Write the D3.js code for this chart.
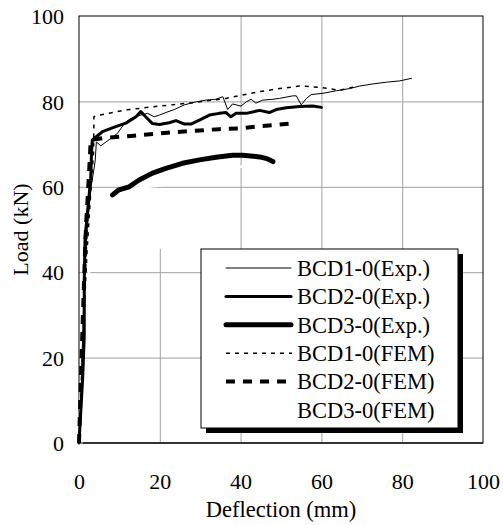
<!DOCTYPE html>
<html><head><meta charset="utf-8">
<script src="https://cdn.jsdelivr.net/npm/d3@7/dist/d3.min.js"></script>
<style>body{margin:0;background:#fff;} svg{display:block;}</style>
</head><body>
<svg id="c" width="503" height="525"></svg>
<script>
const xTicks = [0, 20, 40, 60, 80, 100];
const yTicks = [0, 20, 40, 60, 80, 100];
const seriesNames = ["BCD1-0(Exp.)", "BCD2-0(Exp.)", "BCD3-0(Exp.)", "BCD1-0(FEM)", "BCD2-0(FEM)", "BCD3-0(FEM)"];

const bcd1Exp = [[0,0],[0.6,15],[1.2,35],[2,50],[3,60],[4,66],[4.3,70.5],[5.4,69.6],[7.4,71],[9.5,72.5],[11.4,75],[12.8,76],[14.1,76.4],[15.3,76.8],[17,77.2],[18.6,76.4],[19.9,76.8],[21.5,77.4],[23.6,78.1],[26.1,79.2],[29,79.9],[31.4,80.3],[33.9,80.5],[35.6,81.1],[36.8,78.1],[38,79.4],[40.1,78.9],[41.4,79.9],[42.6,80.5],[43.8,79.6],[45.5,80.3],[48,80.5],[49.6,80.7],[52.9,81.3],[53.8,81.3],[55,79.2],[56.3,80.7],[57.5,81.6],[60.4,81.9],[63.7,82.5],[67,83],[69.5,83.6],[72.8,84.1],[76.1,84.5],[79.4,84.8],[82.3,85.4]];
const bcd2Exp = [[0,0],[0.9,15],[1.3,25],[1.3,38],[1.5,48],[2.1,54],[2.9,62],[3.1,68],[3.3,71],[5.8,72.9],[9.1,74.1],[11.6,74.9],[14.1,76.4],[15.3,77.6],[16.5,76.4],[18.2,74.8],[19.9,74.6],[22.3,75],[24,75.5],[26.1,74.7],[27.7,74.7],[29.8,75.6],[32.3,76.8],[34.7,77.2],[36.4,77.4],[37.6,76.4],[38.9,77.2],[41.4,77.2],[44.7,77.9],[47.1,77.4],[48.8,78.1],[51.3,78.5],[54.6,78.8],[57.9,78.9],[60,78.6]];
const bcd3Exp = [[8.3,58.1],[9.9,59.3],[12.4,60],[14.9,61.6],[18.2,63.2],[21.5,64.3],[25.6,65.5],[29.8,66.3],[33.9,66.9],[38,67.4],[40.5,67.4],[44.7,67],[46.5,66.6],[48,65.9]];
const bcd1Fem = [[0,0],[1,25],[2,45],[3,60],[3.6,68],[3.7,76.4],[4.1,76.6],[11.6,78],[19.9,78.9],[28.1,79.7],[36.4,80.7],[44.7,82.3],[49.6,83],[54.6,83.6],[59.6,83.3],[64.5,82.6],[69,83.6]];
const bcd2Fem = [[0,0],[0.8,25],[1.5,45],[1.8,52],[2.3,60],[2.7,67],[2.9,71],[5.8,71.4],[12.8,71.9],[19.9,72.5],[28.1,73.1],[34.7,73.5],[40.1,73.7],[44.7,74.2],[48.8,74.5],[53.8,74.9]];
const bcd3Fem = [[0,0],[0.5,12],[1,22],[1.6,32],[2.5,40],[4,47],[6,53],[8.3,57.5],[12,59.3],[16,59.9],[20,60.3],[25,61.5],[30,62.7],[35,63.8],[40,64.7],[45,65.2],[50,65.5]];

const styles = [
  {stroke:"#000", w:1, dash:null, cap:"round"},
  {stroke:"#000", w:3, dash:null, cap:"round"},
  {stroke:"#000", w:5, dash:null, cap:"round"},
  {stroke:"#000", w:1.5, dash:"4,5", cap:"butt"},
  {stroke:"#000", w:4, dash:"9,8", cap:"butt"},
  {stroke:"#fff", w:2.5, dash:null, cap:"round"}
];
const allSeries = [bcd1Exp, bcd2Exp, bcd3Exp, bcd1Fem, bcd2Fem, bcd3Fem];

const FONT = "Liberation Serif";
const svg = d3.select("#c");
const L = 79, R = 483, T = 16, B = 443;
const x = d3.scaleLinear().domain([0,100]).range([L,R]);
const y = d3.scaleLinear().domain([0,100]).range([B,T]);

// legend geometry
const lgX = 201, lgY = 249, lgW = 257, lgH = 179;

// grid
const gx = svg.append("g").attr("transform", `translate(0,${B})`)
  .call(d3.axisBottom(x).tickValues(xTicks.slice(1,-1)).tickSize(-(B-T)).tickFormat(""));
gx.select(".domain").remove();
gx.selectAll("line").attr("stroke","#a0a0a0").attr("stroke-width",1);
gx.selectAll(".tick").filter(d => d === 20).select("line").attr("y2", -(B - lgY));
const gy = svg.append("g").attr("transform", `translate(${L},0)`)
  .call(d3.axisLeft(y).tickValues(yTicks.slice(1,-1)).tickSize(-(R-L)).tickFormat(""));
gy.select(".domain").remove();
gy.selectAll("line").attr("stroke","#a0a0a0").attr("stroke-width",1);

// frame
svg.append("rect").attr("x",L).attr("y",T).attr("width",R-L).attr("height",B-T)
  .attr("fill","none").attr("stroke","#000").attr("stroke-width",1);

// curves
const line = d3.line().x(d => x(d[0])).y(d => y(d[1]));
const order = [5,0,3,4,1,2];
order.forEach(i => {
  const s = styles[i];
  svg.append("path").datum(allSeries[i]).attr("d", line)
    .attr("fill","none").attr("stroke", s.stroke).attr("stroke-width", s.w)
    .attr("stroke-linejoin","round").attr("stroke-linecap", s.cap)
    .attr("stroke-dasharray", s.dash);
});

// bottom axis line
svg.append("line").attr("x1",x(1)).attr("x2",R).attr("y1",B).attr("y2",B)
  .attr("stroke","#333").attr("stroke-width",2);

// axis labels
const xa = svg.append("g").attr("transform", `translate(0,${B+30})`)
  .call(d3.axisBottom(x).tickValues(xTicks).tickSize(0).tickPadding(0));
xa.select(".domain").remove();
xa.selectAll("text").attr("font-size",22).attr("dy","0.35em").attr("y",8)
  .style("font-family", FONT).attr("fill","#000");
const ya = svg.append("g").attr("transform", `translate(${L-15},0)`)
  .call(d3.axisLeft(y).tickValues(yTicks).tickSize(0).tickPadding(0));
ya.select(".domain").remove();
ya.selectAll("text").attr("font-size",22).attr("dy","0.35em")
  .style("font-family", FONT).attr("fill","#000");

svg.append("text").attr("x",(L+R)/2).attr("y",517).attr("text-anchor","middle")
  .style("font-family", FONT).attr("font-size",22.5).text("Deflection (mm)");
svg.append("text").attr("transform",`translate(28,${(T+B)/2}) rotate(-90)`)
  .style("font-family", FONT).attr("text-anchor","middle").attr("font-size",22).text("Load (kN)");

// legend
svg.append("rect").attr("x",lgX+5).attr("y",lgY+5).attr("width",lgW).attr("height",lgH).attr("fill","#000");
svg.append("rect").attr("x",lgX).attr("y",lgY).attr("width",lgW).attr("height",lgH)
  .attr("fill","#fff").attr("stroke","#000").attr("stroke-width",1);
seriesNames.forEach((n,i) => {
  const cy = 268 + i*28.4;
  const s = styles[i];
  svg.append("line").attr("x1",226).attr("x2",s.dash ? 292 : 291).attr("y1",cy).attr("y2",cy)
    .attr("stroke",s.stroke).attr("stroke-width",s.w).attr("stroke-linecap",s.cap)
    .attr("stroke-dasharray",s.dash);
  svg.append("text").attr("x",297).attr("y",cy).attr("dy","0.35em")
    .style("font-family", FONT).attr("font-size",22.5).text(n);
});
</script>
</body></html>
